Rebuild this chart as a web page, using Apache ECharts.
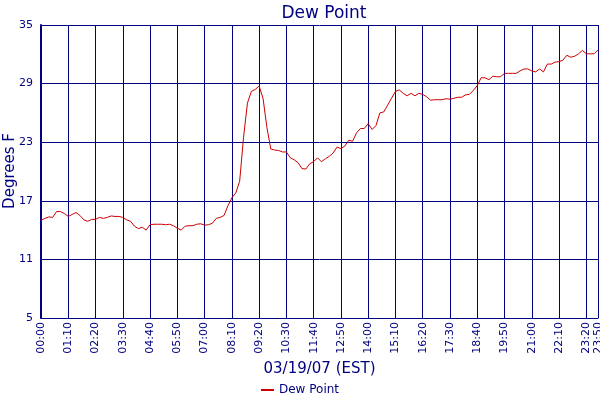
<!DOCTYPE html>
<html>
<head>
<meta charset="utf-8">
<script src="https://cdn.jsdelivr.net/npm/echarts@6/dist/echarts.min.js"></script>
<style>html,body{margin:0;padding:0;background:#fff}#c{width:600px;height:400px}</style>
</head>
<body>
<div id="c"></div>
<script>
// minutes after midnight, every 10 minutes
const timesMin = [];
for (let t = 0; t <= 1430; t += 10) timesMin.push(t);
const dewPoint = [
15.0,15.2,15.35,15.3,15.9,15.9,15.7,15.4,15.6,15.8,
15.5,15.05,14.9,15.1,15.1,15.3,15.2,15.3,15.45,15.4,
15.4,15.3,15.05,14.9,14.4,14.15,14.3,14.0,14.55,14.6,
14.6,14.6,14.55,14.6,14.45,14.2,14.0,14.4,14.45,14.45,
14.6,14.65,14.5,14.55,14.7,15.2,15.3,15.5,16.5,17.3,
17.8,19.0,23.5,27.0,28.2,28.4,28.75,27.5,24.5,22.3,
22.2,22.15,22.0,22.0,21.4,21.2,20.9,20.3,20.25,20.8,
21.0,21.4,21.0,21.3,21.55,21.9,22.5,22.35,22.6,23.2,
23.1,23.95,24.4,24.4,24.9,24.3,24.7,26.0,26.1,26.8,
27.5,28.2,28.35,28.0,27.75,28.0,27.75,28.0,27.9,27.65,
27.3,27.35,27.35,27.35,27.45,27.4,27.5,27.6,27.6,27.85,
27.9,28.3,28.8,29.6,29.6,29.4,29.75,29.7,29.7,30.05,
30.05,30.05,30.05,30.3,30.5,30.5,30.3,30.2,30.5,30.2,
31.0,31.0,31.2,31.25,31.4,31.9,31.7,31.8,32.05,32.4,
32.05,32.05,32.05,32.45
];
const yTicks = [5, 11, 17, 23, 29, 35];
const titleText = 'Dew Point';
const xName = '03/19/07 (EST)';
const yName = 'Degrees F';

const navy = '#000080';
const font = 'Verdana, "DejaVu Sans", sans-serif';
function fmt(v){
  const h = Math.floor(v/60), m = v%60;
  return String(h).padStart(2,'0') + ':' + String(m).padStart(2,'0');
}
const chart = echarts.init(document.getElementById('c'));
chart.setOption({
  animation: false,
  backgroundColor: '#fff',
  title: {
    text: titleText, left: 319, top: 0, textAlign: 'center',
    textStyle: { color: navy, fontSize: 17, fontWeight: 'normal', fontFamily: font }
  },
  legend: {
    bottom: -1, left: 'center',
    icon: 'rect', itemWidth: 13, itemHeight: 2, itemGap: 4,
    textStyle: { color: navy, fontSize: 12, fontFamily: font },
    data: [{ name: 'Dew Point' }]
  },
  graphic: [{
    type: 'text', x: 10, y: 171, rotation: Math.PI / 2,
    style: {
      text: yName, fill: navy, font: '15px ' + font,
      textAlign: 'center', textVerticalAlign: 'middle'
    }
  }],
  grid: { left: 41, right: 2, top: 25, bottom: 82, containLabel: false, outerBoundsMode: 'none' },
  xAxis: {
    type: 'value', min: 0, max: 1430, interval: 70,
    name: xName, nameLocation: 'middle', nameGap: 44,
    nameTextStyle: { color: navy, fontSize: 15, fontFamily: font },
    axisLine: { lineStyle: { color: navy, width: 1 } },
    axisTick: { show: false },
    splitLine: { show: true, lineStyle: { color: navy, width: 1 } },
    axisLabel: {
      rotate: 90, color: navy, fontSize: 11, fontFamily: font, margin: 4,
      showMaxLabel: true, showMinLabel: true,
      formatter: v => fmt(v)
    }
  },
  yAxis: {
    type: 'value', min: 5, max: 35, interval: 6,
    axisLine: { show: true, lineStyle: { color: navy, width: 2 } },
    axisTick: { show: false },
    splitLine: { show: true, lineStyle: { color: navy, width: 1 } },
    axisLabel: { color: navy, fontSize: 11, fontFamily: font, margin: 8 }
  },
  series: [{
    name: 'Dew Point', type: 'line', showSymbol: false,
    lineStyle: { color: '#cc0000', width: 1 },
    itemStyle: { color: '#cc0000' },
    data: timesMin.map((t, i) => [t, dewPoint[i]])
  }]
});
</script>
</body>
</html>
